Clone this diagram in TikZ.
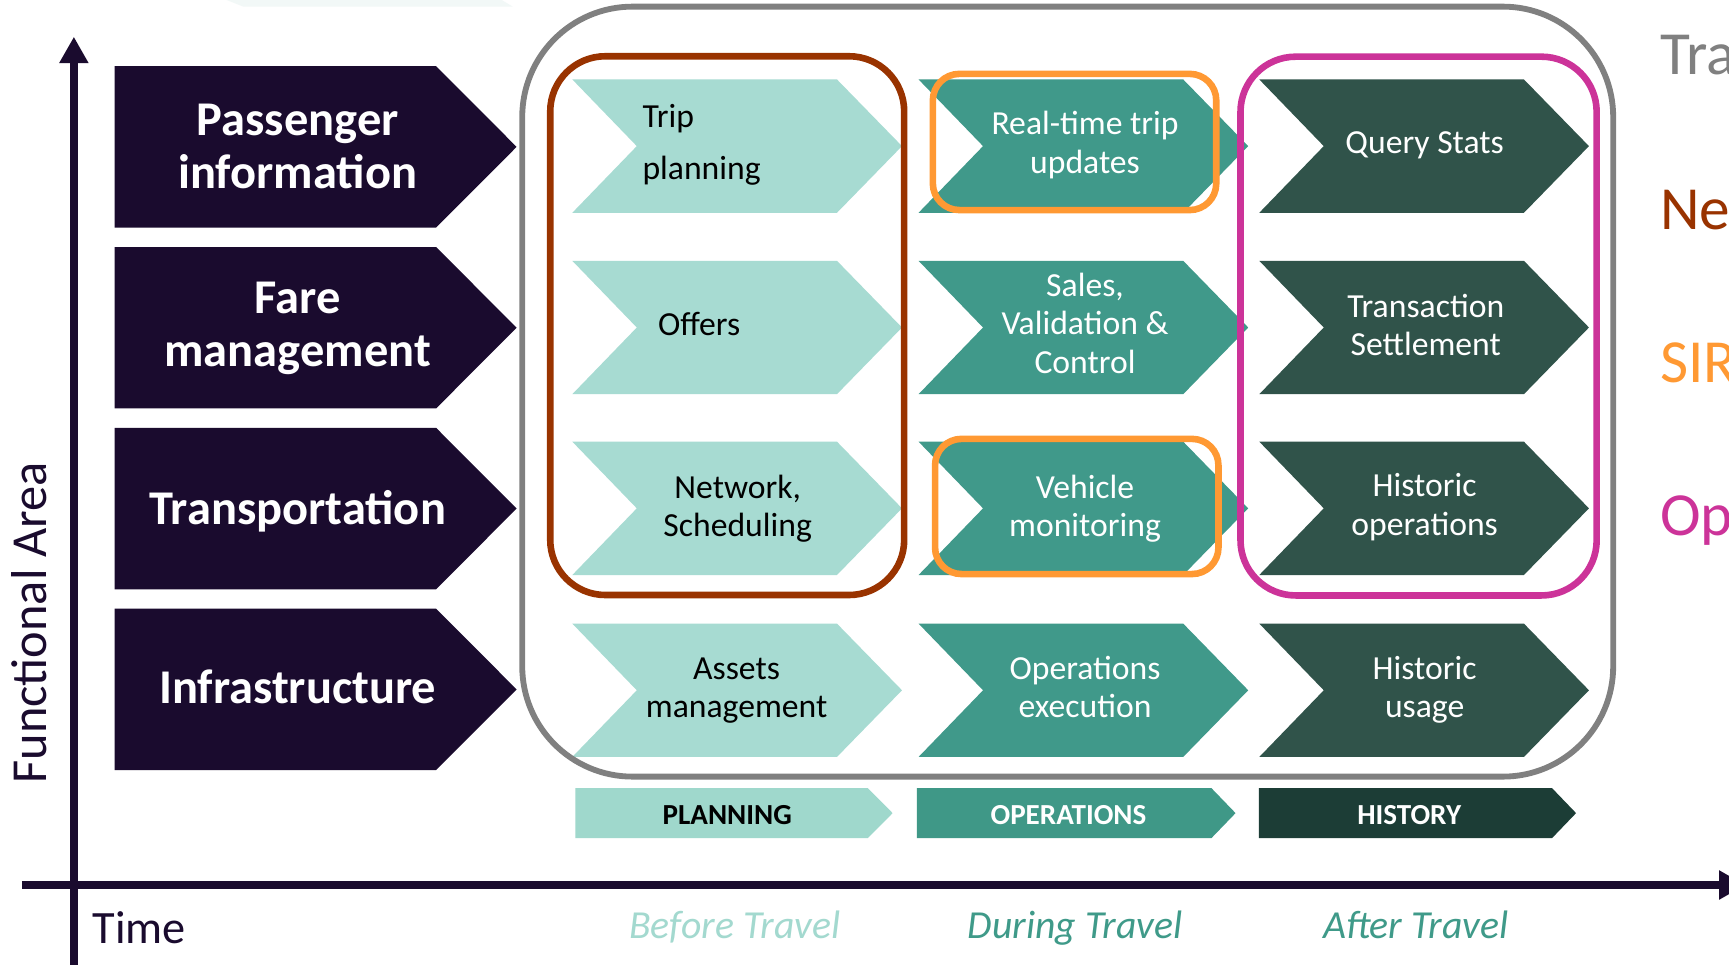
\documentclass[tikz,border=0pt]{standalone}
\usepackage{fontspec}
\setmainfont{Carlito}
\usetikzlibrary{arrows.meta}
\definecolor{navy}{HTML}{1A0B2E}
\definecolor{lightt}{HTML}{A7DBD2}
\definecolor{midt}{HTML}{40998A}
\definecolor{darkt}{HTML}{30534A}
\definecolor{planbar}{HTML}{9FD8CC}
\definecolor{opbar}{HTML}{3F9887}
\definecolor{histbar}{HTML}{1C3D36}
\definecolor{beforec}{HTML}{A3D9CF}
\definecolor{duringc}{HTML}{3F9A89}
\definecolor{framegray}{HTML}{808080}
\definecolor{brownc}{HTML}{993300}
\definecolor{orangec}{HTML}{FF9933}
\definecolor{magc}{HTML}{CC3399}
\definecolor{faint}{HTML}{F2F8F7}
\newcommand\mychev[3]{\fill[#3] (#1,#2) -- ++(240,0) -- ++(59,60.5) -- ++(-59,60.5) -- ++(-240,0) -- ++(58.5,-60.5) -- cycle;}
\newcommand\myfa[1]{\fill[navy] (104,#1) -- ++(291.5,0) -- ++(73,73.2) -- ++(-73,73.2) -- ++(-291.5,0) -- cycle;}
\newcommand\myph[4]{\fill[#4] (#1,714.8) -- (#2,714.8) -- (#3,737.4) -- (#2,760) -- (#1,760) -- cycle;}
\begin{document}
\begin{tikzpicture}[x=0.01cm,y=-0.01cm,
  fa/.style={font=\bfseries\fontsize{12.5pt}{13.66pt}\selectfont, text=white, align=center, anchor=base, inner sep=0pt},
  cl/.style={font=\fontsize{8.68pt}{9.96pt}\selectfont, align=center, anchor=base, inner sep=0pt},
  ph/.style={font=\bfseries\fontsize{7.5pt}{9pt}\selectfont, anchor=base, inner sep=0pt},
  tl/.style={font=\itshape\fontsize{10.24pt}{12pt}\selectfont, anchor=base, inner sep=0pt},
  lg/.style={font=\fontsize{15.8pt}{18pt}\selectfont, anchor=base west, inner sep=0pt},
  axis/.style={draw=navy, line width=2.1pt, -{Triangle[length=0.24cm,width=0.25cm]}},
  frame/.style={draw=#1, line width=1.7pt, rounded corners=0.5cm}]
\useasboundingbox (0,0) rectangle (1568,875);
\clip (0,0) rectangle (1568,875);
\fill[white] (0,0) rectangle (1568,875);
\fill[faint] (205.6,0) -- (455,0) -- (465,6) -- (220.6,6) -- cycle;

% axes
\coordinate (yb) at (67,880);
\coordinate (yt) at (67,33.3);
\coordinate (xl) at (19.8,802.6);
\coordinate (xr) at (1583,802.6);
\draw[axis] (yb) -- (yt);
\draw[axis] (xl) -- (xr);
\node[font=\fontsize{13pt}{15pt}\selectfont, text=navy, rotate=90, anchor=base, inner sep=0pt] (fa-label) at (42.5,565) {Functional Area};
\node[font=\fontsize{11.95pt}{14pt}\selectfont, text=navy, anchor=base west, inner sep=0pt] (time) at (83.3,856) {Time};

% functional area boxes
\myfa{60}
\myfa{224}
\myfa{388}
\myfa{552}
\node[fa] (pi) at (270,170.8) {Passenger\\information};
\node[fa] (fm) at (270,332.6) {Fare\\management};
\node[fa] (tr) at (270,476) {Transportation};
\node[fa] (in) at (270,637.7) {Infrastructure};

% chevrons
\mychev{519}{72}{lightt}
\mychev{519}{236.5}{lightt}
\mychev{519}{400.5}{lightt}
\mychev{519}{565.5}{lightt}
\mychev{833}{72}{midt}
\mychev{833}{236.5}{midt}
\mychev{833}{400.5}{midt}
\mychev{833}{565.5}{midt}
\mychev{1142}{72}{darkt}
\mychev{1142}{236.5}{darkt}
\mychev{1142}{400.5}{darkt}
\mychev{1142}{565.5}{darkt}

% column 1 texts
\node[cl, anchor=base west] (trip) at (582,116) {Trip};
\node[cl, anchor=base west] (trip2) at (582,163) {planning};
\node[cl] (offers) at (634,304) {Offers};
\node[cl] (net) at (669,486.7) {Network,\\Scheduling};
\node[cl] (assets) at (668,651) {Assets\\management};
% column 2 texts
\node[cl, text=white] (rt) at (984,157) {Real-time trip\\updates};
\node[cl, text=white] (sales) at (984,338.5) {Sales,\\Validation \&\\Control};
\node[cl, text=white] (veh) at (984,486.7) {Vehicle\\monitoring};
\node[cl, text=white] (opex) at (984,651) {Operations\\execution};
% column 3 texts
\node[cl, text=white] (qs) at (1292,139) {Query Stats};
\node[cl, text=white] (ts) at (1293,322.8) {Transaction\\Settlement};
\node[cl, text=white] (ho) at (1292,485.5) {Historic\\operations};
\node[cl, text=white] (hu) at (1292,651) {Historic\\usage};

% frames
\draw[framegray, line width=1.5pt, rounded corners=1cm] (473.6,6) rectangle (1463,704.3);
\draw[frame=brownc] (499,51) rectangle (820,539.6);
\draw[frame=magc] (1125,51.4) rectangle (1448,540);
\draw[frame=orangec, rounded corners=0.24cm] (846,67) rectangle (1103,190.5);
\draw[frame=orangec, rounded corners=0.24cm] (848,398) rectangle (1105,520.6);

% phase bars
\myph{521.7}{787}{809.5}{planbar}
\myph{831.6}{1098.7}{1120.5}{opbar}
\myph{1141.7}{1407.6}{1429.3}{histbar}
\node[ph, text=black] (plan) at (659.5,747.3) {PLANNING};
\node[ph, text=white] (oper) at (969,747.3) {OPERATIONS};
\node[ph, text=white] (hist) at (1278,747.3) {HISTORY};

% time labels
\node[tl, text=beforec] (bt) at (666.4,850.8) {Before Travel};
\node[tl, text=duringc] (dt) at (975,850.8) {During Travel};
\node[tl, text=duringc] (at) at (1284,850.8) {After Travel};

% legend (cut off at the right edge, as in the reference)
\node[lg, text=framegray] (l1) at (1505,68) {Tra};
\node[lg, text=brownc] (l2) at (1505,208) {Ne};
\node[lg, text=orangec] (l3) at (1505,347) {SIR};
\node[lg, text=magc] (l4) at (1505,486) {Op};
\end{tikzpicture}
\end{document}
